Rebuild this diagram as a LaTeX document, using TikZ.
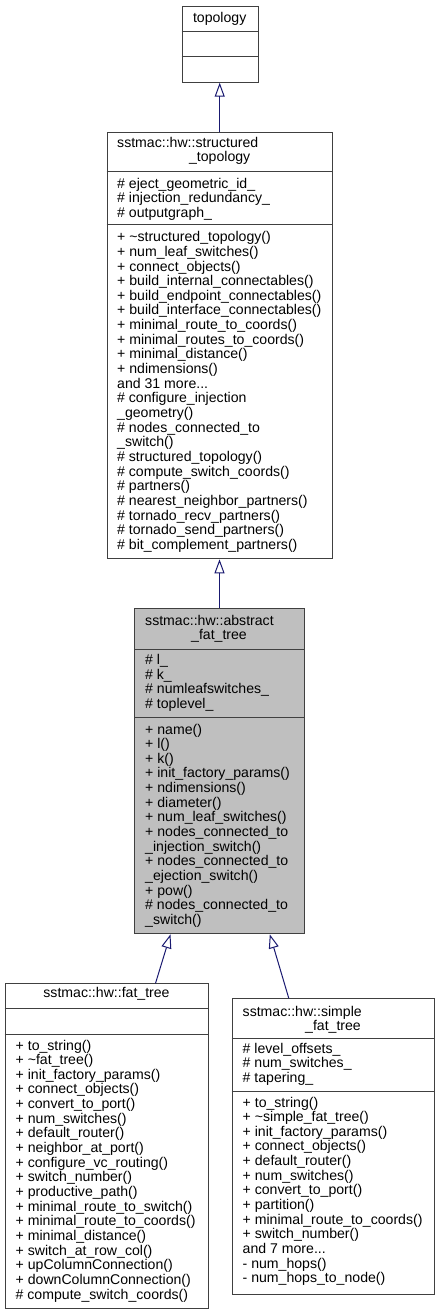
\documentclass[tikz,border=0pt]{standalone}
\usepackage{fontspec}
\setmainfont{Liberation Sans}
\usetikzlibrary{arrows.meta}
\definecolor{edgeblue}{RGB}{25,25,112}
\definecolor{boxline}{RGB}{64,64,64}
\definecolor{boxfill}{RGB}{191,191,191}
\tikzset{
  cls/.style={draw=boxline, line width=1pt, rectangle, inner sep=0pt, anchor=north west},
  txt/.style={inner sep=0pt, font=\fontsize{14.1}{14.65}\selectfont},
  inh/.style={draw=edgeblue, line width=1pt, -{Triangle[open, length=14pt, width=10pt]}},
  divider/.style={draw=boxline, line width=1pt},
}
\newcommand\threedots{...}
\newcommand\cmplines[4]{\foreach \t [count=\i from 0] in {#4} {\node[txt, anchor=base west] (#1\i) at ({#2},{#3+14.65*\i}) {\t};}}
\begin{document}
\begin{tikzpicture}[x=1pt,y=-1pt]
\useasboundingbox (0,0) rectangle (440,1315);

% topology
\node[cls, minimum width=76pt, minimum height=76pt] (topo) at (181.7,5.7) {};
\draw[divider] (topo.west |- 0,31.7) -- (topo.east |- 0,31.7);
\draw[divider] (topo.west |- 0,56.7) -- (topo.east |- 0,56.7);
\node[txt, anchor=base] (topot) at (219.7,22) {topology};

% structured_topology
\node[cls, minimum width=225pt, minimum height=426.6pt] (st) at (106.7,131.7) {};
\draw[divider] (st.west |- 0,171.7) -- (st.east |- 0,171.7);
\draw[divider] (st.west |- 0,224.3) -- (st.east |- 0,224.3);
\node[txt, anchor=base west] (stt1) at (117,147) {sstmac::hw::structured};
\node[txt, anchor=base] (stt2) at (219.7,161.65) {\_topology};
\cmplines{sta}{117}{188}{\# eject\_geometric\_id\_,\# injection\_redundancy\_,\# outputgraph\_}
\cmplines{stm}{117}{241.7}{+ \textasciitilde structured\_topology(),+ num\_leaf\_switches(),+ connect\_objects(),+ build\_internal\_connectables(),+ build\_endpoint\_connectables(),+ build\_interface\_connectables(),+ minimal\_route\_to\_coords(),+ minimal\_routes\_to\_coords(),+ minimal\_distance(),+ ndimensions(),and 31 more\threedots,\# configure\_injection,\_geometry(),\# nodes\_connected\_to,\_switch(),\# structured\_topology(),\# compute\_switch\_coords(),\# partners(),\# nearest\_neighbor\_partners(),\# tornado\_recv\_partners(),\# tornado\_send\_partners(),\# bit\_complement\_partners()}

% abstract_fat_tree
\node[cls, fill=boxfill, minimum width=170pt, minimum height=325pt] (aft) at (134,608.3) {};
\draw[divider] (aft.west |- 0,649) -- (aft.east |- 0,649);
\draw[divider] (aft.west |- 0,717.7) -- (aft.east |- 0,717.7);
\node[txt, anchor=base west] (aftt1) at (145,625) {sstmac::hw::abstract};
\node[txt, anchor=base] (aftt2) at (219,639.65) {\_fat\_tree};
\cmplines{afta}{145}{664.5}{\# l\_,\# k\_,\# numleafswitches\_,\# toplevel\_}
\cmplines{aftm}{145}{734}{+ name(),+ l(),+ k(),+ init\_factory\_params(),+ ndimensions(),+ diameter(),+ num\_leaf\_switches(),+ nodes\_connected\_to,\_injection\_switch(),+ nodes\_connected\_to,\_ejection\_switch(),+ pow(),\# nodes\_connected\_to,\_switch()}

% fat_tree
\node[cls, minimum width=203.6pt, minimum height=325pt] (ft) at (4.7,983.3) {};
\draw[divider] (ft.west |- 0,1008.5) -- (ft.east |- 0,1008.5);
\draw[divider] (ft.west |- 0,1034.3) -- (ft.east |- 0,1034.3);
\node[txt, anchor=base] (ftt) at (106.5,997) {sstmac::hw::fat\_tree};
\cmplines{ftm}{15.5}{1050}{+ to\_string(),+ \textasciitilde fat\_tree(),+ init\_factory\_params(),+ connect\_objects(),+ convert\_to\_port(),+ num\_switches(),+ default\_router(),+ neighbor\_at\_port(),+ configure\_vc\_routing(),+ switch\_number(),+ productive\_path(),+ minimal\_route\_to\_switch(),+ minimal\_route\_to\_coords(),+ minimal\_distance(),+ switch\_at\_row\_col(),+ upColumnConnection(),+ downColumnConnection(),\# compute\_switch\_coords()}

% simple_fat_tree
\node[cls, minimum width=202.6pt, minimum height=296pt] (sft) at (231.7,998.3) {};
\draw[divider] (sft.west |- 0,1038.3) -- (sft.east |- 0,1038.3);
\draw[divider] (sft.west |- 0,1091.7) -- (sft.east |- 0,1091.7);
\node[txt, anchor=base west] (sftt1) at (242.5,1016) {sstmac::hw::simple};
\node[txt, anchor=base] (sftt2) at (333,1030.65) {\_fat\_tree};
\cmplines{sfta}{242.5}{1053}{\# level\_offsets\_,\# num\_switches\_,\# tapering\_}
\cmplines{sftm}{242.5}{1107}{+ to\_string(),+ \textasciitilde simple\_fat\_tree(),+ init\_factory\_params(),+ connect\_objects(),+ default\_router(),+ num\_switches(),+ convert\_to\_port(),+ partition(),+ minimal\_route\_to\_coords(),+ switch\_number(),and 7 more\threedots,- num\_hops(),- num\_hops\_to\_node()}

% inheritance arrows
\draw[inh] (st.north) -- (st.north |- topo.south);
\draw[inh] (aft.north) -- (aft.north |- st.south);
\draw[inh] ([xshift=48.5pt]ft.north) -- ([xshift=-49pt]aft.south);
\draw[inh] ([xshift=-44.7pt]sft.north) -- ([xshift=50.3pt]aft.south);
\end{tikzpicture}
\end{document}
